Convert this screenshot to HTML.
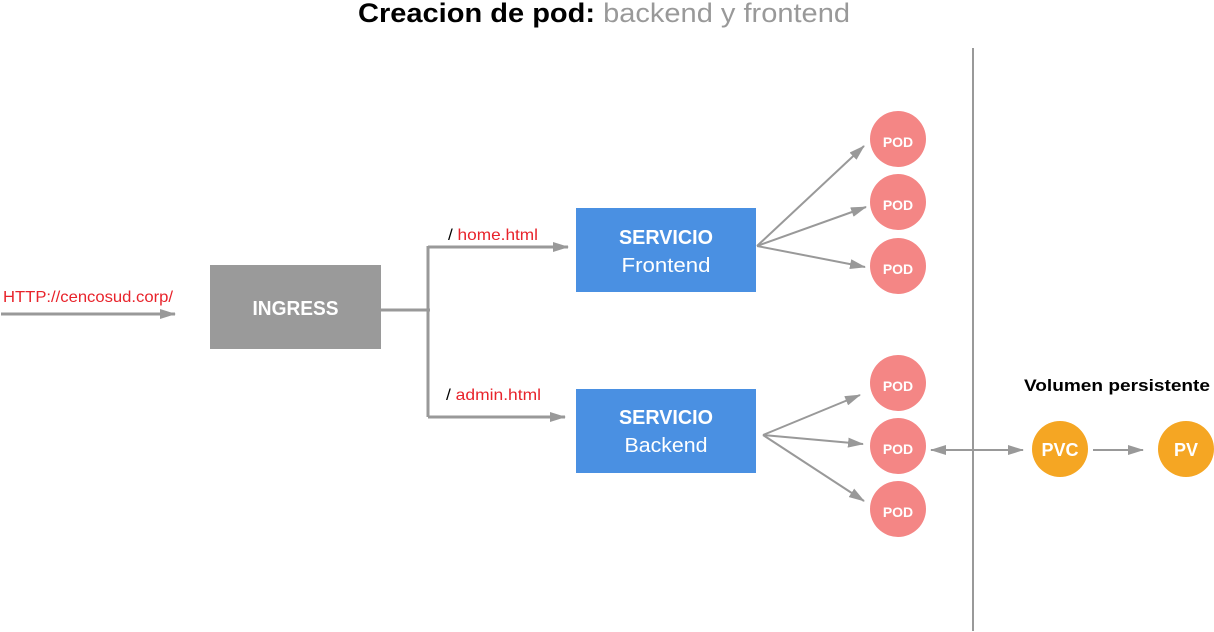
<!DOCTYPE html>
<html><head><meta charset="utf-8"><style>
html,body{margin:0;padding:0;background:#fff;}
svg{display:block;font-family:"Liberation Sans",sans-serif;}
</style></head><body>
<svg width="1214" height="632" viewBox="0 0 1214 632" xmlns="http://www.w3.org/2000/svg">
<defs>
<marker id="a" markerWidth="16" markerHeight="10" refX="15" refY="5" orient="auto" markerUnits="userSpaceOnUse">
<path d="M0,0 L16,5 L0,10 Z" fill="#999"/></marker>
<marker id="b" markerWidth="16" markerHeight="10" refX="1" refY="5" orient="auto" markerUnits="userSpaceOnUse">
<path d="M16,0 L0,5 L16,10 Z" fill="#999"/></marker>
</defs>
<text x="358" y="22" font-size="27" textLength="492" lengthAdjust="spacingAndGlyphs"><tspan font-weight="bold" fill="#000">Creacion de pod:</tspan><tspan fill="#999"> backend y frontend</tspan></text>
<line x1="973" y1="48" x2="973" y2="631" stroke="#999" stroke-width="2"/>
<g stroke="#999" stroke-width="3" fill="none">
<line x1="1" y1="314" x2="175" y2="314" marker-end="url(#a)"/>
<line x1="380" y1="310" x2="430" y2="310"/>
<polyline points="428,246 428,417"/>
<line x1="428" y1="247" x2="568" y2="247" marker-end="url(#a)"/>
<line x1="428" y1="417" x2="565" y2="417" marker-end="url(#a)"/>
</g>
<g stroke="#999" stroke-width="2" fill="none">
<line x1="757" y1="246" x2="864" y2="146" marker-end="url(#a)"/>
<line x1="757" y1="246" x2="866" y2="207" marker-end="url(#a)"/>
<line x1="757" y1="246" x2="865" y2="267" marker-end="url(#a)"/>
<line x1="763" y1="435" x2="860" y2="395" marker-end="url(#a)"/>
<line x1="763" y1="435" x2="863" y2="444" marker-end="url(#a)"/>
<line x1="763" y1="435" x2="864" y2="501" marker-end="url(#a)"/>
<line x1="931" y1="450" x2="1023" y2="450" marker-start="url(#b)" marker-end="url(#a)"/>
<line x1="1093" y1="450" x2="1143" y2="450" marker-end="url(#a)"/>
</g>
<text x="3" y="302" font-size="16" fill="#e8232b" textLength="170" lengthAdjust="spacingAndGlyphs">HTTP://cencosud.corp/</text>
<text x="448" y="240" font-size="16" textLength="90" lengthAdjust="spacingAndGlyphs"><tspan fill="#000">/ </tspan><tspan fill="#e8232b">home.html</tspan></text>
<text x="446" y="400" font-size="16" textLength="95" lengthAdjust="spacingAndGlyphs"><tspan fill="#000">/ </tspan><tspan fill="#e8232b">admin.html</tspan></text>
<rect x="210" y="265" width="171" height="84" fill="#9a9a9a"/>
<text x="295.5" y="315" text-anchor="middle" font-size="20" font-weight="bold" fill="#fff" textLength="86" lengthAdjust="spacingAndGlyphs">INGRESS</text>
<rect x="576" y="208" width="180" height="84" fill="#4a90e2"/>
<text x="666" y="244" text-anchor="middle" font-size="20" font-weight="bold" fill="#fff" textLength="94" lengthAdjust="spacingAndGlyphs">SERVICIO</text>
<text x="666" y="272" text-anchor="middle" font-size="20" fill="#fff" textLength="89" lengthAdjust="spacingAndGlyphs">Frontend</text>
<rect x="576" y="389" width="180" height="84" fill="#4a90e2"/>
<text x="666" y="424" text-anchor="middle" font-size="20" font-weight="bold" fill="#fff" textLength="94" lengthAdjust="spacingAndGlyphs">SERVICIO</text>
<text x="666" y="452" text-anchor="middle" font-size="20" fill="#fff" textLength="83" lengthAdjust="spacingAndGlyphs">Backend</text>
<g fill="#f48685">
<circle cx="898" cy="139" r="28"/><circle cx="898" cy="202" r="28"/><circle cx="898" cy="266" r="28"/>
<circle cx="898" cy="383" r="28"/><circle cx="898" cy="446" r="28"/><circle cx="898" cy="509" r="28"/>
</g>
<g fill="#fff" font-size="14" font-weight="bold" text-anchor="middle">
<text x="898" y="147">POD</text><text x="898" y="210">POD</text><text x="898" y="274">POD</text>
<text x="898" y="391">POD</text><text x="898" y="454">POD</text><text x="898" y="517">POD</text>
</g>
<text x="1024" y="391" font-size="17" font-weight="bold" fill="#000" textLength="186" lengthAdjust="spacingAndGlyphs">Volumen persistente</text>
<circle cx="1060" cy="449" r="28" fill="#f5a623"/>
<circle cx="1186" cy="449" r="28" fill="#f5a623"/>
<text x="1060" y="456" text-anchor="middle" font-size="18" font-weight="bold" fill="#fff">PVC</text>
<text x="1186" y="456" text-anchor="middle" font-size="18" font-weight="bold" fill="#fff">PV</text>
</svg>
</body></html>
